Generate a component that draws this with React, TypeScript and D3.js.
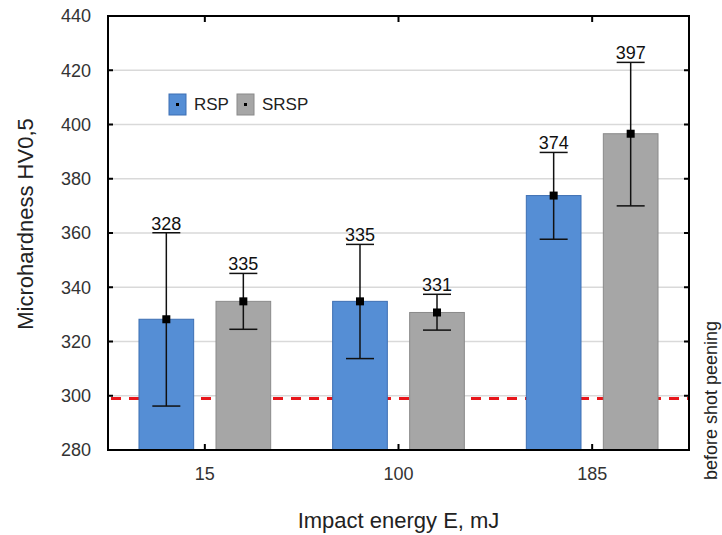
import React, { useEffect } from "react";
import * as d3 from "d3";

// data
const categories = ["15", "100", "185"];
const seriesNames = ["RSP", "SRSP"];
const rspMean = [328.2, 334.8, 373.8];
const srspMean = [334.8, 330.7, 396.6];
const rspLow = [296.2, 313.7, 357.7];
const rspHigh = [360.1, 355.8, 389.7];
const srspLow = [324.5, 324.2, 370.0];
const srspHigh = [345.1, 337.4, 422.9];
const yTicks = [280, 300, 320, 340, 360, 380, 400, 420, 440];
const baseline = 299;

const colors = ["#558ed5", "#a6a6a6"];
const strokes = ["#3d6fb3", "#8a8a8a"];

const W = 722;
const H = 535;
const m = { left: 108, right: 33, top: 16, bottom: 85 };

const App = () => {
    useEffect(() => {
        document.body.style.margin = "0";
    }, []);

    const x = d3
        .scaleBand()
        .domain(categories)
        .range([m.left, W - m.right])
        .paddingInner(0.32)
        .paddingOuter(0.16);
    const xs = d3
        .scaleBand()
        .domain(seriesNames)
        .range([0, x.bandwidth()])
        .paddingInner(0.29);
    const y = d3.scaleLinear().domain([280, 440]).range([H - m.bottom, m.top]);

    const means = [rspMean, srspMean];
    const lows = [rspLow, srspLow];
    const highs = [rspHigh, srspHigh];
    const font = "'Liberation Sans', Arial, sans-serif";
    const x0 = m.left;
    const x1 = W - m.right;
    const y0 = H - m.bottom;
    const y1 = m.top;

    return (
        <svg width={W} height={H} style={{ display: "block", background: "#fff" }} fontFamily={font}>
            {/* grid */}
            {yTicks.slice(1, -1).map((t) => (
                <line key={t} x1={x0} x2={x1} y1={y(t)} y2={y(t)} stroke="#d9d9d9" strokeWidth={1.5} />
            ))}
            {/* reference line */}
            <line
                x1={x0}
                x2={x1}
                y1={y(baseline)}
                y2={y(baseline)}
                stroke="#e8161b"
                strokeWidth={3}
                strokeDasharray="10 8"
                strokeDashoffset={-3}
            />
            {/* bars */}
            {categories.map((c, i) => (
                <g key={c} transform={`translate(${x(c)},0)`}>
                    {seriesNames.map((s, k) => {
                        const bx = xs(s)!;
                        const cx = bx + xs.bandwidth() / 2;
                        const v = means[k][i];
                        return (
                            <g key={s}>
                                <rect
                                    x={bx}
                                    y={y(v)}
                                    width={xs.bandwidth()}
                                    height={y0 - y(v)}
                                    fill={colors[k]}
                                    stroke={strokes[k]}
                                    strokeWidth={1}
                                />
                                <line x1={cx} x2={cx} y1={y(highs[k][i])} y2={y(lows[k][i])} stroke="#111" strokeWidth={1.5} />
                                <line x1={cx - 14} x2={cx + 14} y1={y(highs[k][i])} y2={y(highs[k][i])} stroke="#111" strokeWidth={1.5} />
                                <line x1={cx - 14} x2={cx + 14} y1={y(lows[k][i])} y2={y(lows[k][i])} stroke="#111" strokeWidth={1.5} />
                                <rect x={cx - 4} y={y(v) - 4} width={8} height={8} fill="#000" />
                                <text x={cx} y={y(highs[k][i]) - 3} textAnchor="middle" fontSize={18} fill="#111">
                                    {Math.round(v)}
                                </text>
                            </g>
                        );
                    })}
                </g>
            ))}
            {/* frame */}
            <rect x={x0} y={y1} width={x1 - x0} height={y0 - y1} fill="none" stroke="#000" strokeWidth={2} />
            {/* y ticks */}
            {yTicks.map((t) => (
                <g key={t}>
                    <line x1={x0} x2={x0 + 5} y1={y(t)} y2={y(t)} stroke="#000" strokeWidth={2} />
                    <line x1={x1 - 5} x2={x1} y1={y(t)} y2={y(t)} stroke="#000" strokeWidth={2} />
                    <text x={91} y={y(t)} dy="0.35em" textAnchor="end" fontSize={18} fill="#333">
                        {t}
                    </text>
                </g>
            ))}
            {/* x ticks */}
            {categories.map((c) => {
                const cx = x(c)! + x.bandwidth() / 2;
                return (
                    <g key={c}>
                        <line x1={cx} x2={cx} y1={y0} y2={y0 - 6} stroke="#000" strokeWidth={2} />
                        <line x1={cx} x2={cx} y1={y1} y2={y1 + 6} stroke="#000" strokeWidth={2} />
                        <text x={cx} y={y0 + 30} textAnchor="middle" fontSize={18} fill="#333">
                            {c}
                        </text>
                    </g>
                );
            })}
            {/* legend */}
            {seriesNames.map((s, k) => {
                const lx = k === 0 ? 169 : 237;
                return (
                    <g key={s}>
                        <rect x={lx} y={94} width={17} height={21} fill={colors[k]} stroke={strokes[k]} strokeWidth={1} />
                        <rect x={lx + 7} y={103} width={3} height={3} fill="#000" />
                        <text x={lx + 25} y={110} fontSize={17} fill="#222">
                            {s}
                        </text>
                    </g>
                );
            })}
            {/* axis titles */}
            <text transform={`translate(33,${(y0 + y1) / 2 - 9}) rotate(-90)`} textAnchor="middle" fontSize={22} fill="#222">
                Microhardness HV0,5
            </text>
            <text x={(x0 + x1) / 2} y={528} textAnchor="middle" fontSize={22} fill="#222">
                Impact energy E, mJ
            </text>
            <text transform={`translate(717,480) rotate(-90)`} textAnchor="start" fontSize={18} fill="#222">
                before shot peening
            </text>
        </svg>
    );
};

export default App;
